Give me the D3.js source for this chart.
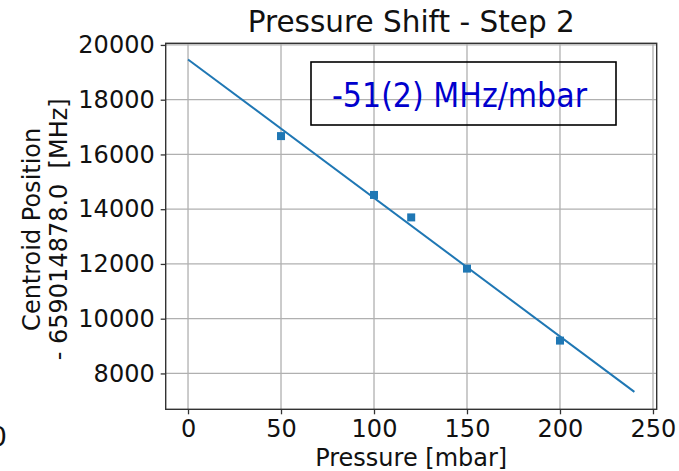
<!DOCTYPE html>
<html>
<head>
<meta charset="utf-8">
<script src="https://cdn.jsdelivr.net/npm/d3@7"></script>
<style>
  html, body { margin: 0; padding: 0; background: #fff; }
  svg { display: block; }
  text { font-family: "DejaVu Sans", sans-serif; }
</style>
</head>
<body>
<svg id="chart" width="679" height="471"></svg>
<script>
// Measured centroid positions (offset from 659014878.0 MHz) vs buffer gas pressure
const pressure = [50, 100, 120, 150, 200];
const centroid = [16670, 14520, 13700, 11830, 9200];

// Linear fit: centroid = intercept + slope * pressure
const fitSlope = -50.6;
const fitIntercept = 19470;
const fitRange = [0, 240];

const xTicks = [0, 50, 100, 150, 200, 250];
const yTicks = [8000, 10000, 12000, 14000, 16000, 18000, 20000];
const xDomain = [-12, 252];
const yDomain = [6690, 20060];

const titleText = "Pressure Shift - Step 2";
const xLabel = "Pressure [mbar]";
const yLabelLines = ["Centroid Position", "- 659014878.0  [MHz]"];
const fitLabel = "-51(2) MHz/mbar";

const svg = d3.select("#chart");
const plot = { left: 165.7, right: 656.7, top: 43.3, bottom: 409.3 };

const x = d3.scaleLinear().domain(xDomain).range([plot.left, plot.right]);
const y = d3.scaleLinear().domain(yDomain).range([plot.bottom, plot.top]);

// Grid lines
const grid = svg.append("g").attr("stroke", "#b0b0b0").attr("stroke-width", 1.3);
grid.selectAll("line.gx").data(xTicks).join("line")
  .attr("x1", d => x(d)).attr("x2", d => x(d))
  .attr("y1", plot.top).attr("y2", plot.bottom);
grid.selectAll("line.gy").data(yTicks).join("line")
  .attr("x1", plot.left).attr("x2", plot.right)
  .attr("y1", d => y(d)).attr("y2", d => y(d));

// Fit line
const fitPts = fitRange.map(p => [p, fitIntercept + fitSlope * p]);
svg.append("path")
  .attr("d", d3.line().x(d => x(d[0])).y(d => y(d[1]))(fitPts))
  .attr("fill", "none").attr("stroke", "#1f77b4").attr("stroke-width", 2);

// Data markers
const ms = 8;
svg.append("g").selectAll("rect").data(pressure).join("rect")
  .attr("x", (d, i) => x(d) - ms / 2)
  .attr("y", (d, i) => y(centroid[i]) - ms / 2)
  .attr("width", ms).attr("height", ms)
  .attr("fill", "#1f77b4");

// Axes
const xAxis = svg.append("g").attr("transform", `translate(0,${plot.bottom})`)
  .call(d3.axisBottom(x).tickValues(xTicks).tickSize(5).tickPadding(6).tickFormat(d3.format("d")));
const yAxis = svg.append("g").attr("transform", `translate(${plot.left},0)`)
  .call(d3.axisLeft(y).tickValues(yTicks).tickSize(5).tickPadding(6).tickFormat(d3.format("d")));
[xAxis, yAxis].forEach(g => {
  g.select(".domain").remove();
  g.selectAll(".tick line").attr("stroke", "#333").attr("stroke-width", 1.3);
  g.selectAll(".tick text").attr("font-family", "DejaVu Sans").attr("font-size", 24).attr("fill", "#111");
});

// Frame
svg.append("rect")
  .attr("x", plot.left).attr("y", plot.top)
  .attr("width", plot.right - plot.left).attr("height", plot.bottom - plot.top)
  .attr("fill", "none").attr("stroke", "#333").attr("stroke-width", 1.4);

// Title
svg.append("text")
  .attr("x", (plot.left + plot.right) / 2).attr("y", 32)
  .attr("text-anchor", "middle").attr("font-size", 29.5).attr("fill", "#111")
  .text(titleText);

// X label
svg.append("text")
  .attr("x", (plot.left + plot.right) / 2).attr("y", 466)
  .attr("text-anchor", "middle").attr("font-size", 24).attr("fill", "#111")
  .text(xLabel);

// Y label (two centred lines, rotated)
const yl = svg.append("text")
  .attr("transform", `translate(0,${(plot.top + plot.bottom) / 2 + 3}) rotate(-90)`)
  .attr("text-anchor", "middle").attr("font-size", 24).attr("fill", "#111")
  .style("white-space", "pre");
yl.selectAll("tspan").data(yLabelLines).join("tspan")
  .attr("x", 0).attr("y", (d, i) => 40 + i * 27)
  .text(d => d);

// Fit result box
svg.append("rect")
  .attr("x", 311).attr("y", 62).attr("width", 305).attr("height", 63)
  .attr("fill", "none").attr("stroke", "#000").attr("stroke-width", 1.6);
svg.append("text")
  .attr("x", 459.5).attr("y", 107)
  .attr("text-anchor", "middle").attr("font-family", "Roboto").attr("font-size", 33.5)
  .attr("textLength", 255).attr("lengthAdjust", "spacingAndGlyphs")
  .attr("fill", "#0000cd")
  .text(fitLabel);

// Edge tick label of the neighbouring panel
svg.append("text")
  .attr("x", 7).attr("y", 446)
  .attr("text-anchor", "end").attr("font-size", 27).attr("fill", "#111")
  .text("0");
</script>
</body>
</html>
